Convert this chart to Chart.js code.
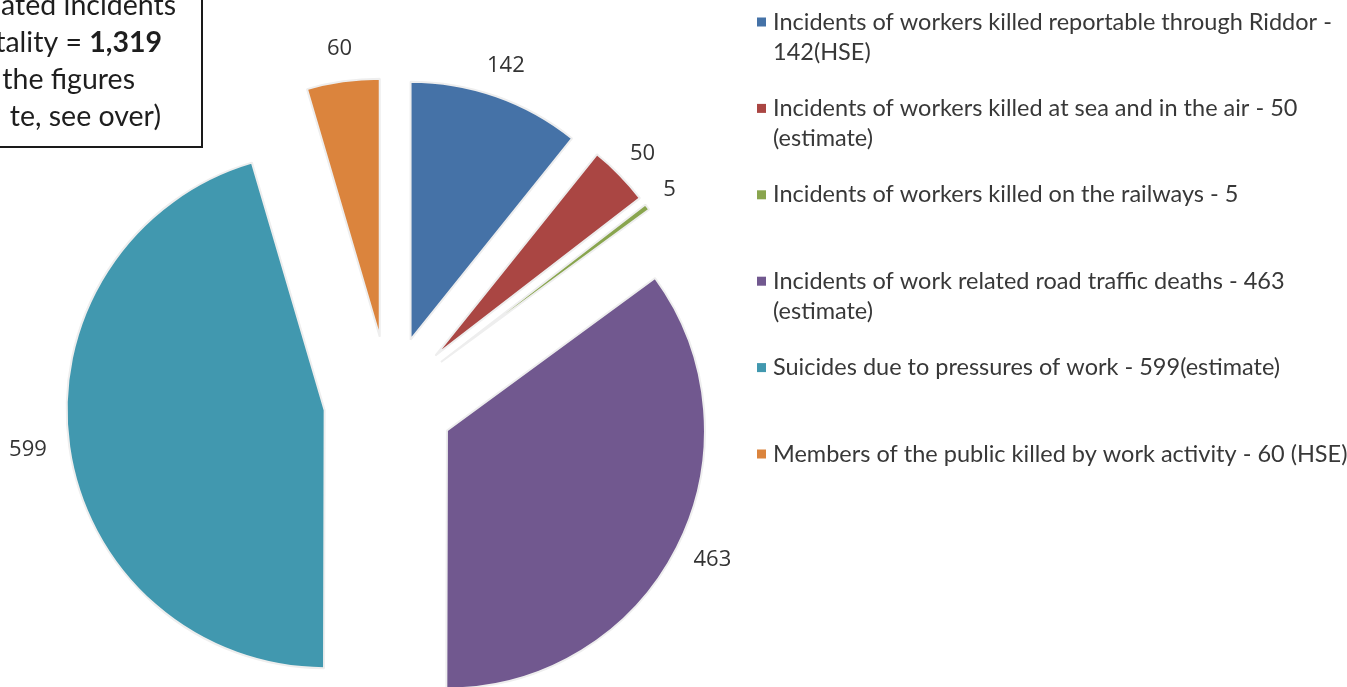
<!DOCTYPE html>
<html>
<head>
<meta charset="utf-8">
<script src="https://cdn.jsdelivr.net/npm/chart.js@4.4.1/dist/chart.umd.min.js"></script>
<style>
  html, body { margin: 0; padding: 0; background: #fff; overflow: hidden; }
</style>
</head>
<body>
<canvas id="pie" width="1347" height="687"></canvas>
<script>
// legend text, split into lines the way the original wraps them
const categories = [
    ['Incidents of workers killed reportable through Riddor -', '142(HSE)'],
    ['Incidents of workers killed at sea and in the air - 50', '(estimate)'],
    ['Incidents of workers killed on the railways - 5'],
    ['Incidents of work related road traffic deaths - 463', '(estimate)'],
    ['Suicides due to pressures of work - 599(estimate)'],
    ['Members of the public killed by work activity - 60 (HSE)']
];
const values = [142, 50, 5, 463, 599, 60];
const colors = ['#4572a7', '#aa4643', '#89a54e', '#71588f', '#4198af', '#db843d'];

// the cut-off note box in the top left corner: [normal, bold]
const noteLines = [
    ['ated incidents', ''],
    ['tality = ', '1,319'],
    ['the figures', ''],
    ['te, see over)', '']
];

const EXPLODE = 65;

// pull every slice out along its middle angle (like Excel's "explosion")
const explodePlugin = {
    id: 'explode',
    beforeDatasetDraw: function(chart, args){
        let ctx = chart.ctx;
        args.meta.data.forEach(function(arc){
            let mid = (arc.startAngle + arc.endAngle) / 2;
            ctx.save();
            ctx.translate(Math.cos(mid) * EXPLODE, Math.sin(mid) * EXPLODE);
            arc.draw(ctx);
            ctx.restore();
        });
        return false;
    }
};

// value labels outside each slice, box just touching a circle
const valueLabels = {
    id: 'valueLabels',
    afterDatasetsDraw: function(chart){
        let ctx = chart.ctx;
        let meta = chart.getDatasetMeta(0);
        ctx.save();
        ctx.font = '22px "Open Sans", sans-serif';
        ctx.fillStyle = '#333333';
        ctx.textAlign = 'center';
        ctx.textBaseline = 'middle';
        meta.data.forEach(function(arc, i){
            let txt = String(chart.data.datasets[0].data[i]);
            let w = ctx.measureText(txt).width;
            let mid = (arc.startAngle + arc.endAngle) / 2;
            let r = arc.outerRadius + EXPLODE + 23;
            let x = arc.x + Math.cos(mid) * (r + w / 2 * Math.abs(Math.cos(mid)));
            let y = arc.y + Math.sin(mid) * (r + 10 * Math.abs(Math.sin(mid)));
            ctx.fillText(txt, x, y);
        });
        ctx.restore();
    }
};

// legend on the right, multi-line entries
const sideLegend = {
    id: 'sideLegend',
    afterDraw: function(chart){
        let ctx = chart.ctx;
        let bg = chart.data.datasets[0].backgroundColor;
        ctx.save();
        ctx.font = '23.5px Lato, sans-serif';
        ctx.textAlign = 'left';
        ctx.textBaseline = 'middle';
        chart.data.labels.forEach(function(lines, i){
            let y = 22 + i * 86.4;
            ctx.fillStyle = bg[i];
            ctx.fillRect(757, y - 4.5, 9, 9);
            ctx.fillStyle = '#383838';
            lines.forEach(function(line, j){
                ctx.fillText(line, 773, y + j * 30);
            });
        });
        ctx.restore();
    }
};

// the note box
const noteBox = {
    id: 'noteBox',
    afterDraw: function(chart){
        let ctx = chart.ctx;
        let ends = [176, 162, 135, 161];
        ctx.save();
        ctx.fillStyle = '#ffffff';
        ctx.fillRect(-10, -10, 212, 157);
        ctx.strokeStyle = '#1a1a1a';
        ctx.lineWidth = 2;
        ctx.strokeRect(-10, -10, 212, 157);
        ctx.fillStyle = '#1e1e1e';
        ctx.textAlign = 'right';
        ctx.textBaseline = 'middle';
        noteLines.forEach(function(parts, i){
            let y = 6 + i * 37;
            let x = ends[i];
            if (parts[1]) {
                ctx.font = 'bold 28.5px Lato, sans-serif';
                ctx.fillText(parts[1], x, y);
                x -= ctx.measureText(parts[1]).width;
            }
            ctx.font = '28.5px Lato, sans-serif';
            ctx.fillText(parts[0], x, y);
        });
        ctx.restore();
    }
};

const ctxx = document.getElementById('pie').getContext('2d');
const myPieChart = new Chart(ctxx, {
    type: 'pie',
    data: {
        labels: categories,
        datasets: [{
            data: values,
            backgroundColor: colors,
            borderColor: '#eeeeee',
            borderWidth: 2
        }]
    },
    options: {
        responsive: false,
        animation: false,
        events: [],
        radius: 258,
        layout: {
            padding: { left: 0, right: 569, top: 115, bottom: 0 }
        },
        plugins: {
            legend: { display: false },
            tooltip: { enabled: false }
        }
    },
    plugins: [explodePlugin, valueLabels, sideLegend, noteBox]
});
</script>
</body>
</html>
